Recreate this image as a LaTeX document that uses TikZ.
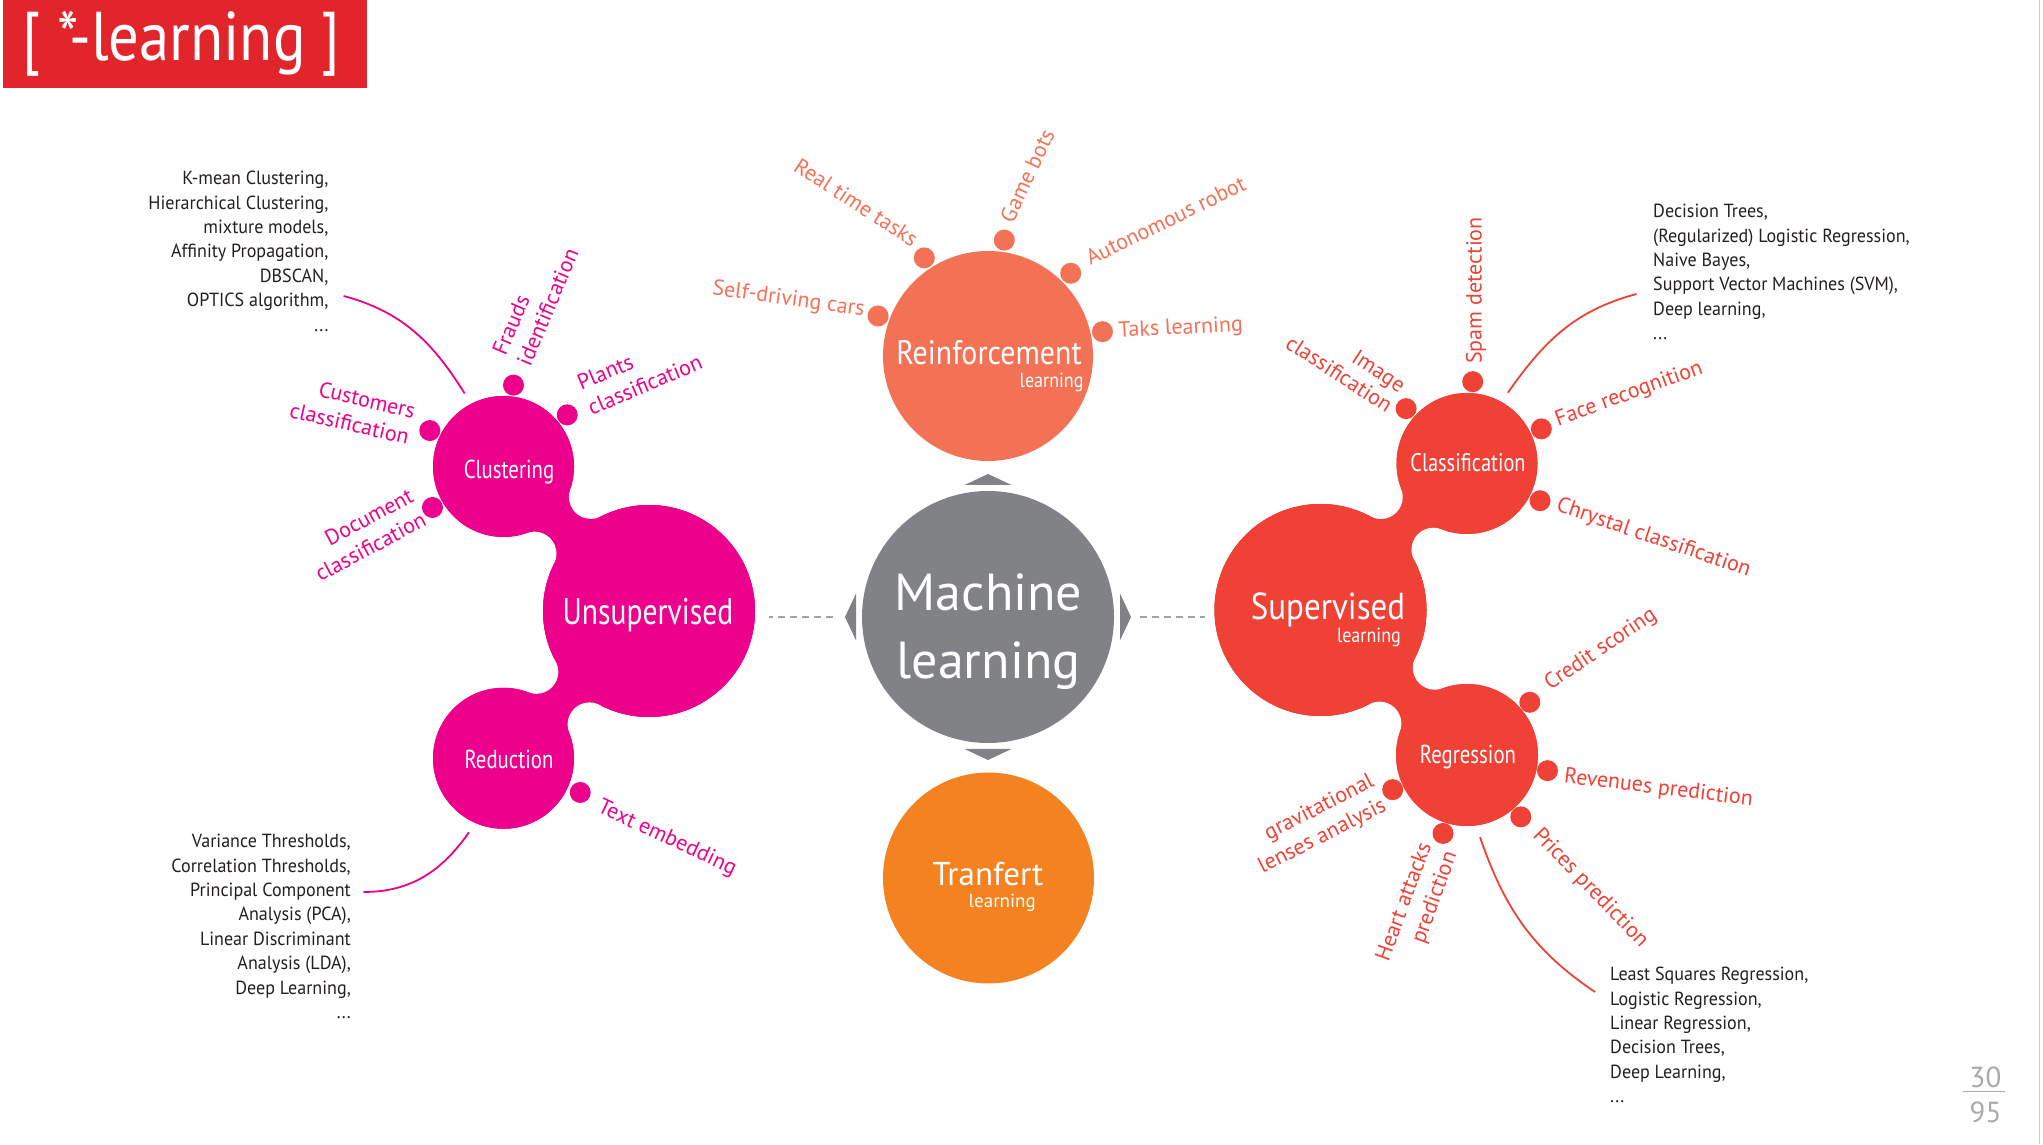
\documentclass[tikz,border=0pt]{standalone}
\usepackage{fontspec}
\setmainfont{PT Sans}
\newfontfamily\condfont[FakeStretch=0.8]{PT Sans}
\newfontfamily\semicondfont[FakeStretch=0.88]{PT Sans}
\newfontfamily\listfont[FakeStretch=0.95]{PT Sans}
\usetikzlibrary{calc,intersections}

\definecolor{mlgray}{HTML}{808285}
\definecolor{unsmag}{HTML}{EC008C}
\definecolor{reicoral}{HTML}{F37155}
\definecolor{supred}{HTML}{EF4136}
\definecolor{traorange}{HTML}{F58220}
\definecolor{titlered}{HTML}{E2242B}
\definecolor{pagegray}{HTML}{A7A9AC}
\definecolor{dashgray}{HTML}{A0A2A5}
\definecolor{listblack}{HTML}{231F20}

% neck between two balls: #1/#2 first ball and radius, #3/#4 second ball and radius, #5 colour
\newcommand{\blobneck}[5]{%
    \path[name path=nk#1a] (#1.center) circle [radius=#2+22];
    \path[name path=nk#1b] (#3.center) circle [radius=#4+22];
    \path[name intersections={of=nk#1a and nk#1b, by={#1f1,#1f2}}];
    \coordinate (#1a1) at ($(#1.center)!{#2/(#2+22)}!(#1f1)$);
    \coordinate (#1a2) at ($(#1.center)!{#2/(#2+22)}!(#1f2)$);
    \coordinate (#1b1) at ($(#3.center)!{#4/(#4+22)}!(#1f1)$);
    \coordinate (#1b2) at ($(#3.center)!{#4/(#4+22)}!(#1f2)$);
    \fill[#5] (#1.center) -- (#1a1) -- (#1b1) -- (#3.center) -- (#1b2) -- (#1a2) -- cycle;
    \fill[white] (#1f1) circle [radius=22] (#1f2) circle [radius=22];
    \fill[#5] (#1.center) circle [radius=#2] (#3.center) circle [radius=#4];
}

\begin{document}
\begin{tikzpicture}[x=1pt, y=1pt]
    % Define styles
    \tikzset{
        ball/.style={circle, fill=#1, inner sep=0pt, draw=none},
        bubble/.style={circle, fill=#1, inner sep=0pt, minimum size=21pt},
        ballname/.style={text=white, inner sep=0pt, anchor=base, font=\condfont\fontsize{26}{30}\selectfont},
        sublbl/.style={text=white, inner sep=0pt, anchor=base east, font=\semicondfont\fontsize{20.5}{22}\selectfont},
        leaf/.style={text=#1, inner sep=0pt, font=\fontsize{22}{27}\selectfont},
        algolist/.style={text=listblack, inner sep=0pt, font=\listfont\fontsize{19}{24.4}\selectfont},
        linkline/.style={draw=#1, line width=1.8pt},
        dashline/.style={draw=dashgray, line width=1.3pt, dash pattern=on 7pt off 5pt}
    }

    \useasboundingbox (0,0) rectangle (2043,1144);
    \draw[pagegray!60, line width=1pt] (2039,0) -- (2039,1144);

    % Title
    \node[fill=titlered, minimum width=364pt, minimum height=88pt, inner sep=0pt, anchor=north west] (titlebox) at (3,1144) {};
    \node[text=white, inner sep=0pt, anchor=base, font=\semicondfont\fontsize{69}{72}\selectfont] (titletxt) at (181.7,1083.3) {[ *-learning ]};

    % Balls
    \node[ball=mlgray, minimum size=252pt] (ml) at (988,527) {};
    \node[ball=reicoral, minimum size=210pt] (rei) at (988,788) {};
    \node[ball=traorange, minimum size=211pt] (tra) at (988.5,266) {};
    \node[ball=unsmag, minimum size=212pt] (uns) at (649,533) {};
    \node[ball=unsmag, minimum size=141pt] (clu) at (503.5,677.5) {};
    \node[ball=unsmag, minimum size=141pt] (red) at (503.5,385.7) {};
    \node[ball=supred, minimum size=212pt] (sup) at (1320.5,534) {};
    \node[ball=supred, minimum size=141pt] (cls) at (1467,680.5) {};
    \node[ball=supred, minimum size=142pt] (reg) at (1467,389) {};

    % Necks
    \blobneck{clu}{70.5}{uns}{106}{unsmag}
    \blobneck{red}{70.5}{uns}{106}{unsmag}
    \blobneck{cls}{70.5}{sup}{106}{supred}
    \blobneck{reg}{71}{sup}{106}{supred}

    % Pointers round the centre
    \foreach \a in {0,90,180,270}
        \fill[mlgray, shift={(ml.center)}, rotate=\a] (132,-23.5) -- (143,0) -- (132,23.5) -- cycle;
    \draw[dashline, shorten <=29pt, shorten >=14pt] (ml.west) -- (ml.west -| uns.east);
    \draw[dashline, shorten <=26pt, shorten >=9.5pt] (ml.east) -- (ml.east -| sup.west);

    % Ball names
    \node[text=white, inner sep=0pt, anchor=base, font=\fontsize{52}{60}\selectfont] (mltop) at (988.5,533.5) {Machine};
    \node[text=white, inner sep=0pt, anchor=base, font=\fontsize{52}{60}\selectfont] (mlbot) at (988.5,465) {learning};
    \node[ballname, font=\semicondfont\fontsize{34}{38}\selectfont] (reitxt) at (989,779) {Reinforcement};
    \node[sublbl] (reisub) at (1083.7,756.3) {learning};
    \node[ballname, font=\fontsize{33}{38}\selectfont] (tratxt) at (988,258) {Tranfert};
    \node[sublbl, font=\fontsize{19}{22}\selectfont] (trasub) at (1036,236.4) {learning};
    \node[ballname, font=\condfont\fontsize{37}{40}\selectfont] (unstxt) at (648,519.4) {Unsupervised};
    \node[ballname, font=\semicondfont\fontsize{37.5}{40}\selectfont] (suptxt) at (1328,524) {Supervised};
    \node[sublbl] (supsub) at (1401,501.3) {learning};
    \node[ballname] (clutxt) at (509,665.7) {Clustering};
    \node[ballname] (redtxt) at (509,375.5) {Reduction};
    \node[ballname, font=\condfont\fontsize{25.5}{30}\selectfont] (clstxt) at (1468,672.3) {Classification};
    \node[ballname] (regtxt) at (1468,380) {Regression};

    % Reinforcement bubbles
    \node[bubble=reicoral] (sdc) at ($(rei)+(160:117)$) {};
    \node[bubble=reicoral] (rtt) at ($(rei)+(123:117)$) {};
    \node[bubble=reicoral] (gbt) at ($(rei)+(82:117)$) {};
    \node[bubble=reicoral] (aur) at ($(rei)+(45:117)$) {};
    \node[bubble=reicoral] (tkl) at ($(rei)+(12:117)$) {};
    \node[leaf=reicoral, anchor=east, rotate=-8] (sdclbl) at (864.5,833.5) {Self-driving cars};
    \node[leaf=reicoral, anchor=east, rotate=-33] (rttlbl) at (916,902.6) {Real time tasks};
    \node[leaf=reicoral, anchor=west, rotate=65] (gbtlbl) at (1006,923) {Game bots};
    \node[leaf=reicoral, anchor=west, rotate=26] (aurlbl) at (1087,885) {Autonomous robot};
    \node[leaf=reicoral, anchor=west, rotate=3] (tkllbl) at (1118.5,812) {Taks learning};

    % Unsupervised bubbles
    \node[bubble=unsmag] (fra) at ($(clu)+(83:82)$) {};
    \node[bubble=unsmag] (pla) at ($(clu)+(39:82)$) {};
    \node[bubble=unsmag] (cus) at ($(clu)+(154:82)$) {};
    \node[bubble=unsmag] (doc) at ($(clu)+(210:82)$) {};
    \node[bubble=unsmag] (tem) at ($(red)+(-24:84)$) {};
    \node[leaf=unsmag, anchor=west, rotate=67, align=left] (fralbl) at (511,785) {Frauds\\identification};
    \node[leaf=unsmag, anchor=west, rotate=23, align=left] (plalbl) at (583.5,748) {Plants\\classification};
    \node[leaf=unsmag, anchor=east, rotate=-13, align=right] (cuslbl) at (412,720) {Customers\\classification};
    \node[leaf=unsmag, anchor=east, rotate=28, align=right] (doclbl) at (418,638) {Document\\classification};
    \node[leaf=unsmag, anchor=west, rotate=-25] (temlbl) at (598.7,337.3) {Text embedding};

    % Supervised bubbles
    \node[bubble=supred] (spa) at ($(cls)+(86:82)$) {};
    \node[bubble=supred] (img) at ($(cls)+(138:82)$) {};
    \node[bubble=supred] (fac) at ($(cls)+(25:82)$) {};
    \node[bubble=supred] (chr) at ($(cls)+(-27:82)$) {};
    \node[bubble=supred] (cre) at ($(reg)+(40:82)$) {};
    \node[bubble=supred] (rev) at ($(reg)+(-11:82)$) {};
    \node[bubble=supred] (pri) at ($(reg)+(-49:82)$) {};
    \node[bubble=supred] (hrt) at ($(reg)+(-107:82)$) {};
    \node[bubble=supred] (gra) at ($(reg)+(-155:82)$) {};
    \node[leaf=supred, anchor=west, rotate=90] (spalbl) at (1476,780) {Spam detection};
    \node[leaf=supred, anchor=east, rotate=-33, align=right, font=\fontsize{22}{24}\selectfont] (imglbl) at (1397,747) {Image\\classification};
    \node[leaf=supred, anchor=west, rotate=20] (faclbl) at (1556,723) {Face recognition};
    \node[leaf=supred, anchor=west, rotate=-19] (chrlbl) at (1557,639) {Chrystal classification};
    \node[leaf=supred, anchor=west, rotate=34] (crelbl) at (1547,458) {Credit scoring};
    \node[leaf=supred, anchor=west, rotate=-7] (revlbl) at (1564,367) {Revenues prediction};
    \node[leaf=supred, anchor=west, rotate=-46] (prilbl) at (1536,312) {Prices prediction};
    \node[leaf=supred, anchor=east, rotate=70, align=right] (hrtlbl) at (1439,296) {Heart attacks\\prediction};
    \node[leaf=supred, anchor=east, rotate=27, align=right] (gralbl) at (1379,351) {gravitational\\lenses analysis};

    % Algorithm lists
    \node[algolist, align=right, anchor=north east] (clulist) at (328.6,973) {K-mean Clustering,\\Hierarchical Clustering,\\mixture models,\\Affinity Propagation,\\DBSCAN,\\OPTICS algorithm,\\...};
    \node[algolist, align=right, anchor=north east] (redlist) at (351,310) {Variance Thresholds,\\Correlation Thresholds,\\Principal Component\\Analysis (PCA),\\Linear Discriminant\\Analysis (LDA),\\Deep Learning,\\...};
    \node[algolist, align=left, anchor=north west] (clslist) at (1653,940) {Decision Trees,\\(Regularized) Logistic Regression,\\Naive Bayes,\\Support Vector Machines (SVM),\\Deep learning,\\...};
    \node[algolist, align=left, anchor=north west] (reglist) at (1610,177) {Least Squares Regression,\\Logistic Regression,\\Linear Regression,\\Decision Trees,\\Deep Learning,\\...};

    % Links from lists
    \draw[linkline=unsmag] ([shift={(15,-125)}]clulist.north east) to[out=-15, in=122] ([shift={(118:12)}]clu.118);
    \draw[linkline=unsmag] ([shift={(12.5,-58)}]redlist.north east) to[out=0, in=235] ([shift={(245:11)}]red.245);
    \draw[linkline=supred] ([shift={(-16.5,-90)}]clslist.north west) to[out=195, in=55] ([shift={(60:11)}]cls.60);
    \draw[linkline=supred] ([shift={(-15,-25)}]reglist.north west) to[out=146, in=-71] ([shift={(-81:12)}]reg.-81);

    % Page number
    \node[text=pagegray, inner sep=0pt, anchor=base, font=\fontsize{29}{30}\selectfont] (pgcur) at (1985.5,57) {30};
    \node[text=pagegray, inner sep=0pt, anchor=base, font=\fontsize{29}{30}\selectfont] (pgall) at (1985.5,21.5) {95};
    \draw[pagegray, line width=1pt] (pgcur.south west) ++(-7,-4) -- ++(42,0);
\end{tikzpicture}
\end{document}
